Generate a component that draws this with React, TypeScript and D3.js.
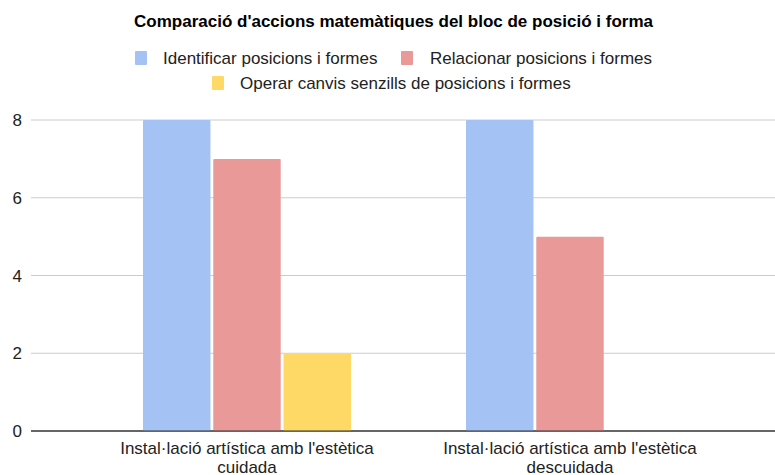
import React, { useEffect, useRef } from 'react';
import * as d3 from 'd3';

const categories = [
  ["Instal·lació artística amb l'estètica", 'cuidada'],
  ["Instal·lació artística amb l'estètica", 'descuidada'],
];
const seriesNames = [
  'Identificar posicions i formes',
  'Relacionar posicions i formes',
  'Operar canvis senzills de posicions i formes',
];
const identificar = [8, 8];
const relacionar = [7, 5];
const operar = [2, 0];
const yTicks = [0, 2, 4, 6, 8];
const colors = ['#a4c2f4', '#ea9999', '#ffd966'];

const W = 775;
const H = 475;
const font = '"Liberation Sans", Arial, sans-serif';

export default function App() {
  const ref = useRef<SVGSVGElement>(null);

  useEffect(() => {
    const svg = d3.select(ref.current);
    svg.selectAll('*').remove();

    const series = [identificar, relacionar, operar];
    const plotLeft = 31;
    const plotRight = 775;

    const x = d3.scaleBand<number>().domain([0, 1]).range([85.5, 731.5]);
    const xInner = d3
      .scaleBand<number>()
      .domain([0, 1, 2])
      .range([0, 208])
      .paddingInner(0.04);
    const y = d3.scaleLinear().domain([0, 8]).range([431, 120]);

    svg
      .append('text')
      .attr('x', W / 2 + 6)
      .attr('y', 27)
      .attr('text-anchor', 'middle')
      .attr('font-family', font)
      .attr('font-weight', 'bold')
      .attr('font-size', 17)
      .attr('fill', '#000')
      .text("Comparació d'accions matemàtiques del bloc de posició i forma");

    // legend
    const legendPos = [
      { sx: 135, tx: 163, y: 58 },
      { sx: 401, tx: 430, y: 58 },
      { sx: 212, tx: 240, y: 83 },
    ];
    seriesNames.forEach((name, i) => {
      const p = legendPos[i];
      svg
        .append('rect')
        .attr('x', p.sx)
        .attr('y', p.y - 7)
        .attr('width', 12)
        .attr('height', 14)
        .attr('rx', 1)
        .attr('fill', colors[i]);
      svg
        .append('text')
        .attr('x', p.tx)
        .attr('y', p.y + 6)
        .attr('font-family', font)
        .attr('font-size', 17)
        .attr('fill', '#222')
        .text(name);
    });

    // grid
    yTicks.forEach((t) => {
      svg
        .append('line')
        .attr('x1', plotLeft)
        .attr('x2', plotRight)
        .attr('y1', y(t))
        .attr('y2', y(t))
        .attr('stroke', t === 0 ? '#333' : '#ccc')
        .attr('stroke-width', 1);
      svg
        .append('text')
        .attr('x', 22)
        .attr('y', y(t) + 6)
        .attr('text-anchor', 'end')
        .attr('font-family', font)
        .attr('font-size', 17)
        .attr('fill', '#222')
        .text(t);
    });

    // bars
    categories.forEach((_, ci) => {
      const groupStart = (x(ci) as number) + (x.bandwidth() - 208) / 2;
      series.forEach((vals, si) => {
        const v = vals[ci];
        if (v <= 0) return;
        svg
          .append('rect')
          .attr('x', groupStart + (xInner(si) as number))
          .attr('y', y(v))
          .attr('width', xInner.bandwidth())
          .attr('height', y(0) - y(v))
          .attr('rx', 1)
          .attr('fill', colors[si]);
      });
    });

    // redraw baseline above bars
    svg
      .append('line')
      .attr('x1', plotLeft)
      .attr('x2', plotRight)
      .attr('y1', y(0))
      .attr('y2', y(0))
      .attr('stroke', '#333')
      .attr('stroke-width', 1);

    // category labels
    categories.forEach((lines, ci) => {
      const cx = (x(ci) as number) + x.bandwidth() / 2;
      lines.forEach((line, li) => {
        svg
          .append('text')
          .attr('x', cx)
          .attr('y', 454 + li * 19)
          .attr('text-anchor', 'middle')
          .attr('font-family', font)
          .attr('font-size', 17)
          .attr('fill', '#222')
          .text(line);
      });
    });
  }, []);

  return (
    <svg
      ref={ref}
      width={W}
      height={H}
      style={{ position: 'absolute', left: 0, top: 0, background: '#fff' }}
    />
  );
}
